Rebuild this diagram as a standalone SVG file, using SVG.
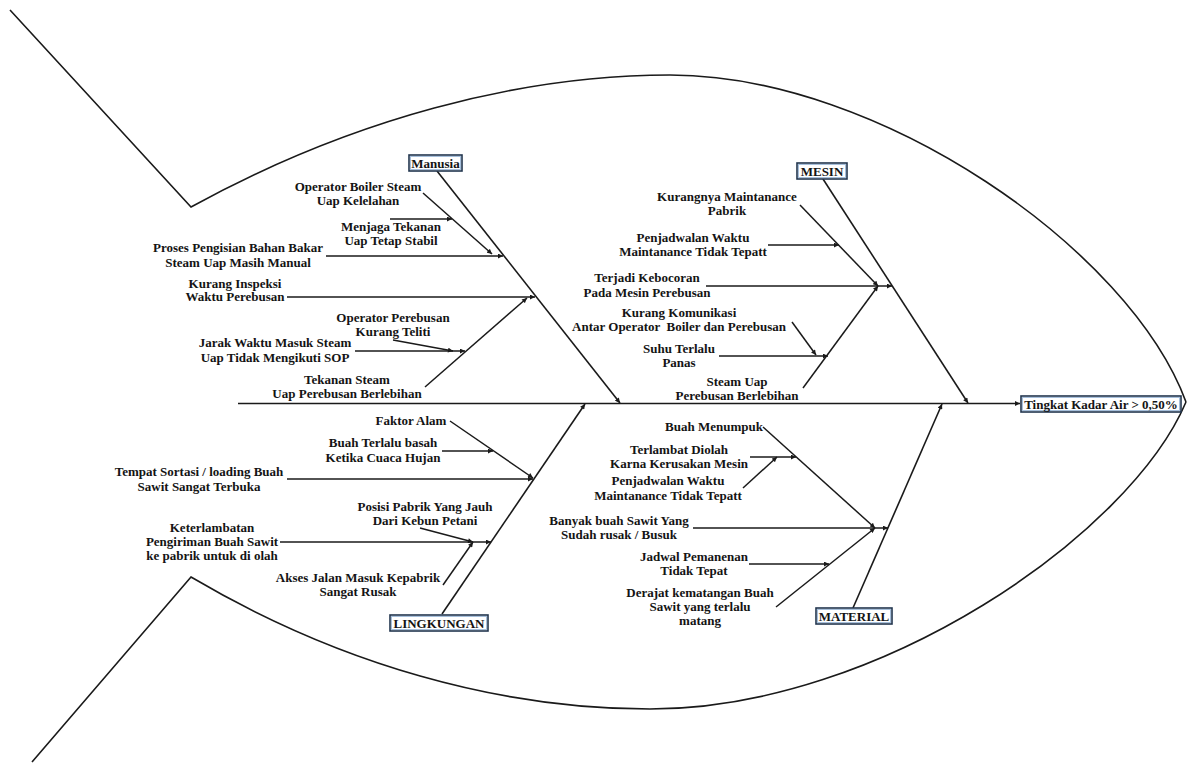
<svg xmlns="http://www.w3.org/2000/svg" width="1187" height="771" viewBox="0 0 1187 771">
  <style>
    .ln { stroke: #1a1a1a; stroke-width: 1.5; fill: none; }
    .bone { stroke: #1a1a1a; stroke-width: 1.6; fill: none; }
    .outline { stroke: #1a1a1a; stroke-width: 1.6; fill: none; }
    text { font-family: "Liberation Serif", "Times New Roman", serif; font-weight: bold; font-size: 13px; fill: #141414; text-anchor: middle; }
    .box { fill: #ffffff; stroke: #22364f; stroke-width: 1.6; }
    .boxin { fill: none; stroke: #a6bfdb; stroke-width: 1; }
  </style>
  <defs>
    <marker id="arr" viewBox="0 0 10 10" refX="10" refY="5" markerWidth="6" markerHeight="5" markerUnits="userSpaceOnUse" orient="auto">
      <path d="M0,0 L10,5 L0,10 z" fill="#1a1a1a"/>
    </marker>
  </defs>
  <rect width="1187" height="771" fill="#ffffff"/>

  <!-- fish outline: tail and body -->
  <g id="outline">
    <path class="outline" d="M10,10 L191,207 C351,119 520,75 670,75 C880,75 1130,250 1186,402"/>
    <path class="outline" d="M32,762 L191,577 C340,665 500,709 650,709 C880,709 1130,534 1186,402"/>
  </g>

  <!-- connectors -->
  <g id="connectors">
    <!-- spine -->
    <line class="bone" x1="238" y1="403.5" x2="1020" y2="403.5" marker-end="url(#arr)"/>
    <!-- main bones -->
    <line class="bone" x1="437" y1="171" x2="620" y2="403" marker-end="url(#arr)"/>
    <line class="bone" x1="823" y1="179" x2="968" y2="403" marker-end="url(#arr)"/>
    <line class="bone" x1="442" y1="614" x2="585" y2="404" marker-end="url(#arr)"/>
    <line class="bone" x1="853" y1="608" x2="942" y2="404" marker-end="url(#arr)"/>

    <!-- Manusia causes -->
    <line class="ln" x1="423" y1="193" x2="492" y2="254" marker-end="url(#arr)"/>
    <line class="ln" x1="390" y1="219" x2="452" y2="219" marker-end="url(#arr)"/>
    <line class="ln" x1="326" y1="256" x2="503" y2="256" marker-end="url(#arr)"/>
    <line class="ln" x1="287" y1="297" x2="535" y2="297" marker-end="url(#arr)"/>
    <line class="ln" x1="425" y1="387" x2="527" y2="298" marker-end="url(#arr)"/>
    <line class="ln" x1="355" y1="351" x2="465" y2="351" marker-end="url(#arr)"/>
    <line class="ln" x1="393" y1="340" x2="453" y2="351" marker-end="url(#arr)"/>

    <!-- Mesin causes -->
    <line class="ln" x1="800" y1="205" x2="878" y2="286" marker-end="url(#arr)"/>
    <line class="ln" x1="768" y1="245" x2="839" y2="245" marker-end="url(#arr)"/>
    <line class="ln" x1="706" y1="286" x2="892" y2="286" marker-end="url(#arr)"/>
    <line class="ln" x1="792" y1="322" x2="816" y2="355" marker-end="url(#arr)"/>
    <line class="ln" x1="719" y1="356" x2="828" y2="356" marker-end="url(#arr)"/>
    <line class="ln" x1="803" y1="388" x2="878" y2="286" marker-end="url(#arr)"/>

    <!-- Lingkungan causes -->
    <line class="ln" x1="450" y1="421" x2="533" y2="478" marker-end="url(#arr)"/>
    <line class="ln" x1="442" y1="451" x2="493" y2="451" marker-end="url(#arr)"/>
    <line class="ln" x1="287" y1="479" x2="533" y2="479" marker-end="url(#arr)"/>
    <line class="ln" x1="420" y1="528" x2="473" y2="542" marker-end="url(#arr)"/>
    <line class="ln" x1="280" y1="542" x2="491" y2="542" marker-end="url(#arr)"/>
    <line class="ln" x1="443" y1="585" x2="473" y2="542" marker-end="url(#arr)"/>

    <!-- Material causes -->
    <line class="ln" x1="763" y1="427" x2="875" y2="528" marker-end="url(#arr)"/>
    <line class="ln" x1="750" y1="457" x2="796" y2="457" marker-end="url(#arr)"/>
    <line class="ln" x1="743" y1="488" x2="777" y2="457" marker-end="url(#arr)"/>
    <line class="ln" x1="693" y1="528" x2="888" y2="528" marker-end="url(#arr)"/>
    <line class="ln" x1="749" y1="564" x2="829" y2="564" marker-end="url(#arr)"/>
    <line class="ln" x1="776" y1="607" x2="875" y2="528" marker-end="url(#arr)"/>
  </g>

  <!-- effect -->
  <g id="effect">
    <rect class="box" x="1021" y="396" width="160" height="16"/>
    <rect class="boxin" x="1022.5" y="397.5" width="157" height="13"/>
    <text x="1101" y="408.5">Tingkat Kadar Air &gt; 0,50%</text>
  </g>

  <!-- category: Manusia -->
  <g id="manusia">
    <rect class="box" x="409" y="155" width="53" height="16"/>
    <rect class="boxin" x="410.5" y="156.5" width="50" height="13"/>
    <text x="435.5" y="167.5">Manusia</text>
    <text x="358" y="191">Operator Boiler Steam</text>
    <text x="358" y="205">Uap Kelelahan</text>
    <text x="391" y="231">Menjaga Tekanan</text>
    <text x="391" y="245">Uap Tetap Stabil</text>
    <text x="238" y="252">Proses Pengisian Bahan Bakar</text>
    <text x="238" y="267">Steam Uap Masih Manual</text>
    <text x="235" y="288">Kurang Inspeksi</text>
    <text x="235" y="301">Waktu Perebusan</text>
    <text x="393" y="322">Operator Perebusan</text>
    <text x="393" y="336">Kurang Teliti</text>
    <text x="275" y="347">Jarak Waktu Masuk Steam</text>
    <text x="275" y="362">Uap Tidak Mengikuti SOP</text>
    <text x="347" y="384">Tekanan Steam</text>
    <text x="347" y="398">Uap Perebusan Berlebihan</text>
  </g>

  <!-- category: Mesin -->
  <g id="mesin">
    <rect class="box" x="797" y="163" width="50" height="16"/>
    <rect class="boxin" x="798.5" y="164.5" width="47" height="13"/>
    <text x="822" y="175.5">MESIN</text>
    <text x="727" y="201">Kurangnya Maintanance</text>
    <text x="727" y="215">Pabrik</text>
    <text x="693" y="242">Penjadwalan Waktu</text>
    <text x="693" y="256">Maintanance Tidak Tepatt</text>
    <text x="647" y="282">Terjadi Kebocoran</text>
    <text x="647" y="297">Pada Mesin Perebusan</text>
    <text x="679" y="317">Kurang Komunikasi</text>
    <text x="679" y="331" style="white-space:pre">Antar Operator  Boiler dan Perebusan</text>
    <text x="679" y="353">Suhu Terlalu</text>
    <text x="679" y="367">Panas</text>
    <text x="737" y="386">Steam Uap</text>
    <text x="737" y="400">Perebusan Berlebihan</text>
  </g>

  <!-- category: Lingkungan -->
  <g id="lingkungan">
    <rect class="box" x="390" y="615" width="98" height="16"/>
    <rect class="boxin" x="391.5" y="616.5" width="95" height="13"/>
    <text x="439" y="627.5">LINGKUNGAN</text>
    <text x="411" y="425">Faktor Alam</text>
    <text x="383" y="447">Buah Terlalu basah</text>
    <text x="383" y="462">Ketika Cuaca Hujan</text>
    <text x="199" y="476">Tempat Sortasi / loading Buah</text>
    <text x="199" y="491">Sawit Sangat Terbuka</text>
    <text x="425" y="511">Posisi Pabrik Yang Jauh</text>
    <text x="425" y="525">Dari Kebun Petani</text>
    <text x="212" y="532">Keterlambatan</text>
    <text x="212" y="546">Pengiriman Buah Sawit</text>
    <text x="212" y="560">ke pabrik untuk di olah</text>
    <text x="358" y="582">Akses Jalan Masuk Kepabrik</text>
    <text x="358" y="596">Sangat Rusak</text>
  </g>

  <!-- category: Material -->
  <g id="material">
    <rect class="box" x="816" y="608" width="76" height="16"/>
    <rect class="boxin" x="817.5" y="609.5" width="73" height="13"/>
    <text x="854" y="620.5">MATERIAL</text>
    <text x="714" y="431">Buah Menumpuk</text>
    <text x="679" y="454">Terlambat Diolah</text>
    <text x="679" y="468">Karna Kerusakan Mesin</text>
    <text x="668" y="485">Penjadwalan Waktu</text>
    <text x="668" y="500">Maintanance Tidak Tepatt</text>
    <text x="619" y="525">Banyak buah Sawit Yang</text>
    <text x="619" y="539">Sudah rusak / Busuk</text>
    <text x="694" y="561">Jadwal Pemanenan</text>
    <text x="694" y="575">Tidak Tepat</text>
    <text x="700" y="597">Derajat kematangan Buah</text>
    <text x="700" y="611">Sawit yang terlalu</text>
    <text x="700" y="625">matang</text>
  </g>
</svg>
